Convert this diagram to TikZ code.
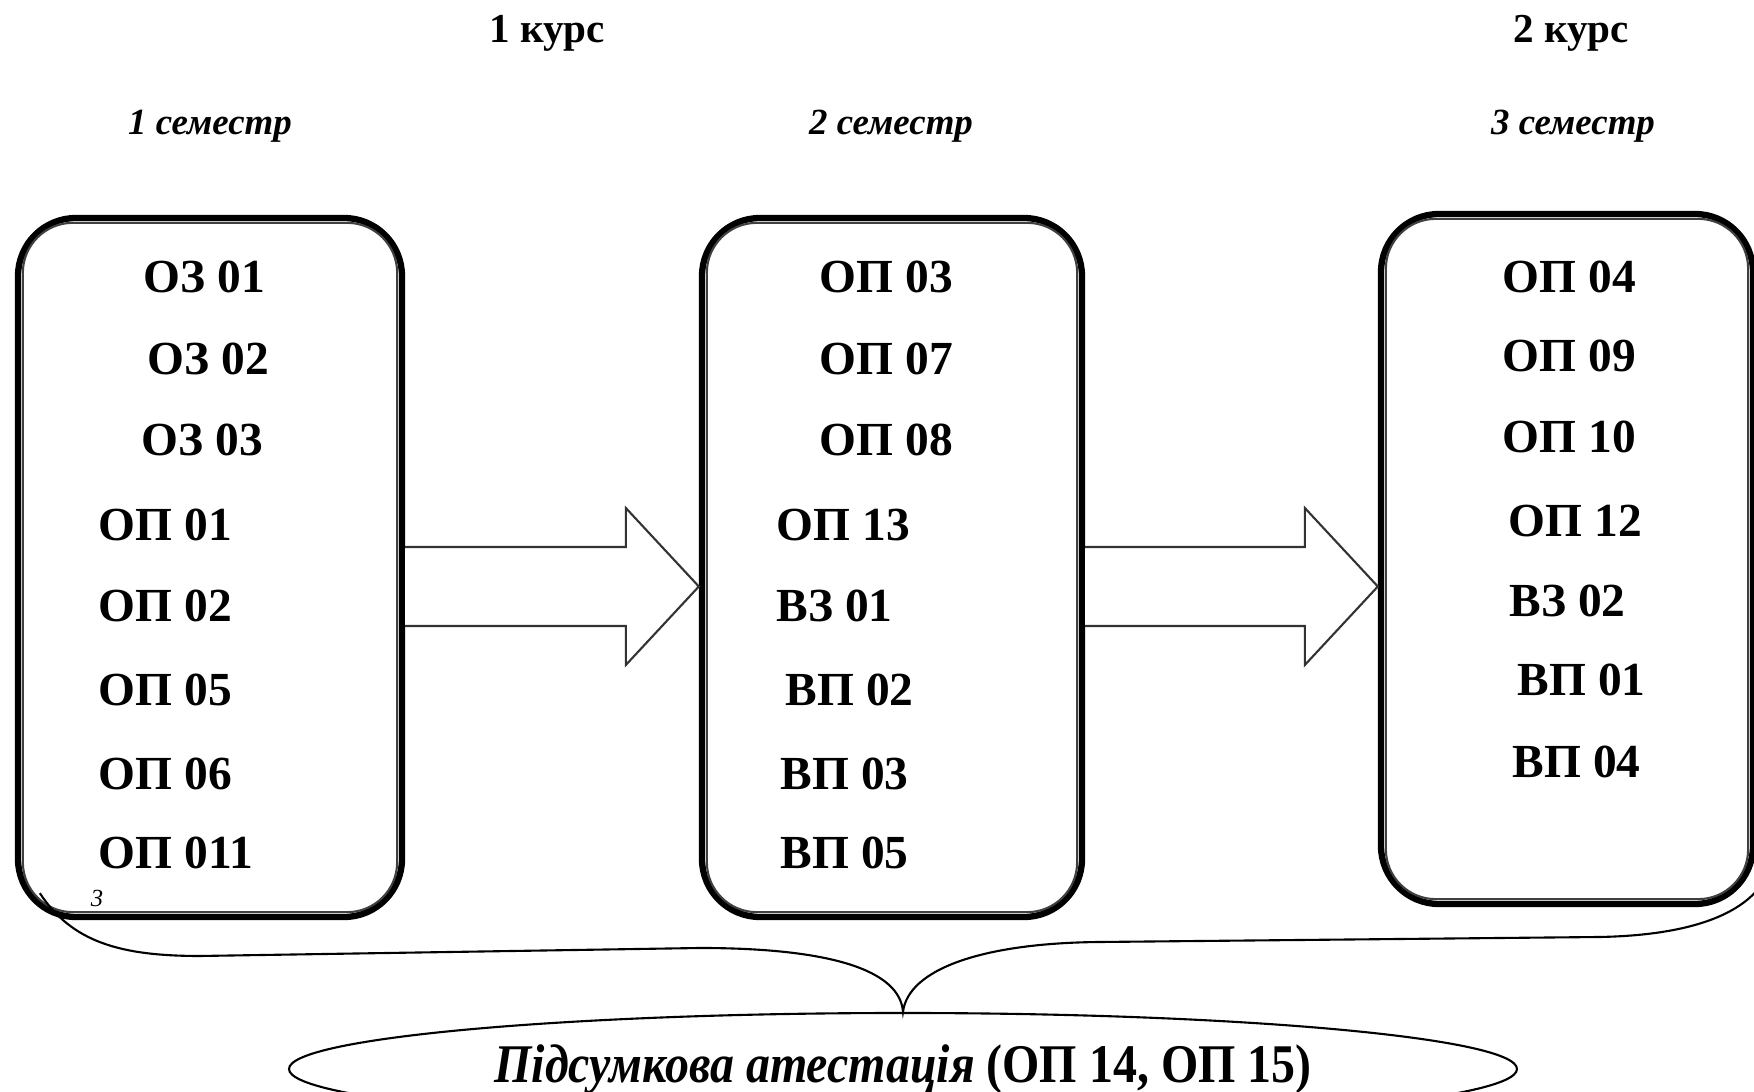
\documentclass[tikz,border=0pt]{standalone}
\usepackage{fontspec}
\usepackage{graphicx}
\setmainfont{Liberation Serif}
\usetikzlibrary{shapes.geometric,calc}

\begin{document}
\begin{tikzpicture}[
    semestr/.style={rectangle, draw=black, line width=1.8pt, rounded corners=5.8mm,
        inner sep=0pt},
    innerline/.style={draw=black!75, line width=0.6pt, rounded corners=5mm},
    subject/.style={anchor=west, inner sep=0pt, text=black,
        font=\fontsize{13.5}{16}\selectfont\bfseries},
    kurs/.style={anchor=base, inner sep=0pt, text=black,
        font=\fontsize{11.7}{14}\selectfont\bfseries},
    semtitle/.style={anchor=base, inner sep=0pt, text=black,
        font=\fontsize{10.5}{13}\selectfont\bfseries\itshape},
    blockarrow/.style={draw=black!80, line width=0.6pt, fill=white},
    brace/.style={draw=black, line width=0.6pt},
    final/.style={ellipse, draw=black, line width=0.6pt, inner sep=0pt,
        minimum width=12.28cm, minimum height=1.12cm,
        font=\fontsize{15.5}{18}\selectfont\bfseries}]

\useasboundingbox (0,0) rectangle (17.54,-10.92);

\node (Kurs1) [kurs] at (5.47,-0.43) {1 курс};
\node (Kurs2) [kurs] at (15.71,-0.43) {2 курс};

\node (Title1) [semtitle] at (2.10,-1.35) {1 семестр};
\node (Title2) [semtitle] at (8.91,-1.35) {2 семестр};
\node (Title3) [semtitle] at (15.73,-1.35) {3 семестр};

\node (Sem01) [semestr, minimum width=3.84cm, minimum height=6.99cm] at (2.10,-5.675) {};
\node (Sem02) [semestr, minimum width=3.80cm, minimum height=6.99cm] at (8.92,-5.675) {};
\node (Sem03) [semestr, minimum width=3.72cm, minimum height=6.90cm] at (15.67,-5.59) {};

\draw[innerline] ($(Sem01.north west)+(0.08,-0.08)$) rectangle ($(Sem01.south east)+(-0.08,0.08)$);
\draw[innerline] ($(Sem02.north west)+(0.08,-0.08)$) rectangle ($(Sem02.south east)+(-0.08,0.08)$);
\draw[innerline] ($(Sem03.north west)+(0.08,-0.08)$) rectangle ($(Sem03.south east)+(-0.08,0.08)$);

\node (OZ01) [subject] at (1.43,-2.77) {ОЗ 01};
\node (OZ02) [subject] at (1.47,-3.59) {ОЗ 02};
\node (OZ03) [subject] at (1.41,-4.40) {ОЗ 03};
\node (OP01) [subject] at (0.98,-5.25) {ОП 01};
\node (OP02) [subject] at (0.98,-6.06) {ОП 02};
\node (OP05) [subject] at (0.98,-6.90) {ОП 05};
\node (OP06) [subject] at (0.98,-7.74) {ОП 06};
\node (OP011) [subject] at (0.98,-8.53) {ОП 011};
\node (Mark3) [inner sep=0pt, font=\fontsize{7}{8}\selectfont\itshape] at (0.97,-8.98) {3};

\node (OP03) [subject] at (8.19,-2.77) {ОП 03};
\node (OP07) [subject] at (8.19,-3.59) {ОП 07};
\node (OP08) [subject] at (8.19,-4.40) {ОП 08};
\node (OP13) [subject] at (7.76,-5.25) {ОП 13};
\node (VZ01) [subject] at (7.76,-6.06) {ВЗ 01};
\node (VP02) [subject] at (7.85,-6.90) {ВП 02};
\node (VP03) [subject] at (7.80,-7.74) {ВП 03};
\node (VP05) [subject] at (7.80,-8.53) {ВП 05};

\node (OP04) [subject] at (15.02,-2.77) {ОП 04};
\node (OP09) [subject] at (15.02,-3.56) {ОП 09};
\node (OP10) [subject] at (15.02,-4.37) {ОП 10};
\node (OP12) [subject] at (15.08,-5.21) {ОП 12};
\node (VZ02) [subject] at (15.09,-6.01) {ВЗ 02};
\node (VP01) [subject] at (15.17,-6.80) {ВП 01};
\node (VP04) [subject] at (15.12,-7.62) {ВП 04};

\draw[blockarrow] ($(Sem01.east)+(0,0.205)$)
    -- ($(Sem02.west |- Sem01.east)+(-0.73,0.205)$)
    -- ($(Sem02.west |- Sem01.east)+(-0.73,0.595)$)
    -- ($(Sem02.west |- Sem01.east)+(0,-0.19)$)
    -- ($(Sem02.west |- Sem01.east)+(-0.73,-0.975)$)
    -- ($(Sem02.west |- Sem01.east)+(-0.73,-0.585)$)
    -- ($(Sem01.east)+(0,-0.585)$);
\draw[blockarrow] ($(Sem02.east)+(0,0.205)$)
    -- ($(Sem03.west |- Sem02.east)+(-0.73,0.205)$)
    -- ($(Sem03.west |- Sem02.east)+(-0.73,0.595)$)
    -- ($(Sem03.west |- Sem02.east)+(0,-0.19)$)
    -- ($(Sem03.west |- Sem02.east)+(-0.73,-0.975)$)
    -- ($(Sem03.west |- Sem02.east)+(-0.73,-0.585)$)
    -- ($(Sem02.east)+(0,-0.585)$);

\node (Final) [final] at (9.03,-10.69)
    {\scalebox{0.88}[1]{\textit{Підсумкова атестація} (ОП 14, ОП 15)}};

\coordinate (BraceL) at ($(Sem01.south west)+(0.25,0.27)$);
\coordinate (BraceR) at ($(Sem03.south east)+(0.01,0.17)$);
\draw[brace] (BraceL) .. controls (0.72,-9.42) and (1.2,-9.56) .. (2.0,-9.56)
    -- (7.0,-9.48) .. controls (8.3,-9.48) and (9.0,-9.7) .. (Final.north)
    .. controls (9.08,-9.7) and (9.8,-9.43) .. (11.0,-9.42)
    -- (16.0,-9.37) .. controls (17.0,-9.35) and (17.4,-9.1) .. (BraceR);

\end{tikzpicture}
\end{document}
